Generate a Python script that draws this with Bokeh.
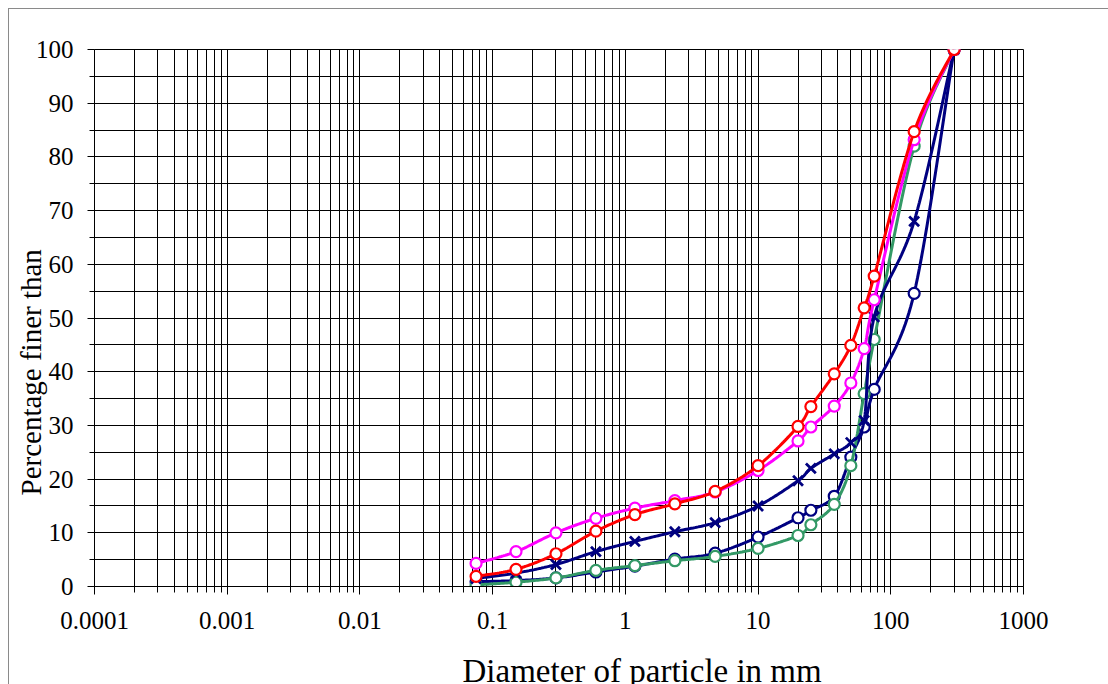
import math
from bokeh.plotting import figure
from bokeh.models import FixedTicker, Title, ColumnDataSource
from bokeh.embed import file_html
from bokeh.resources import INLINE

# ---------------- data ----------------
sizes = [0.075, 0.15, 0.3, 0.6, 1.18, 2.36, 4.75, 10, 20, 25, 37.5, 50, 63, 75, 150, 300]

red_series = [1.9, 3.2, 6.1, 10.3, 13.4, 15.4, 17.7, 22.5, 29.8, 33.5, 39.6, 44.9, 51.9, 57.8, 84.7, 100]
magenta_series = [4.3, 6.5, 10.0, 12.7, 14.6, 16.0, 17.6, 21.6, 27.1, 29.7, 33.6, 37.9, 44.3, 53.4, 83.2, 100]
navy_x_series = [1.5, 2.5, 4.1, 6.5, 8.4, 10.2, 11.9, 15.0, 19.7, 22.0, 24.7, 26.8, 30.9, 50.2, 68.0, 100]
navy_o_series = [0.9, 1.1, 1.6, 2.7, 3.8, 5.1, 6.2, 9.2, 12.8, 14.2, 16.8, 24.1, 29.7, 36.7, 54.6, 100]
green_series = [0.3, 0.8, 1.6, 3.0, 3.9, 4.8, 5.6, 7.1, 9.5, 11.5, 15.3, 22.5, 35.9, 46.0, 82.0, 100]

x_ticks = [0.0001, 0.001, 0.01, 0.1, 1, 10, 100, 1000]
x_tick_labels = ["0.0001", "0.001", "0.01", "0.1", "1", "10", "100", "1000"]
y_ticks = [0, 10, 20, 30, 40, 50, 60, 70, 80, 90, 100]
y_minor = [5, 15, 25, 35, 45, 55, 65, 75, 85, 95]

x_title = "Diameter of particle in mm"
y_title = "Percentage finer than"

FONT = "Liberation Serif"


def smooth(xs, ys, n=24):
    """Excel-like smoothed line (Catmull-Rom Bezier) in (log10 x, y) space."""
    us = [math.log10(v) for v in xs]
    pts = list(zip(us, ys))
    out_u, out_y = [], []
    m = len(pts)
    for i in range(m - 1):
        p0 = pts[i - 1] if i > 0 else pts[i]
        p1 = pts[i]
        p2 = pts[i + 1]
        p3 = pts[i + 2] if i + 2 < m else pts[i + 1]
        c1 = (p1[0] + (p2[0] - p0[0]) / 6.0, p1[1] + (p2[1] - p0[1]) / 6.0)
        c2 = (p2[0] - (p3[0] - p1[0]) / 6.0, p2[1] - (p3[1] - p1[1]) / 6.0)
        for k in range(n + (1 if i == m - 2 else 0)):
            t = k / n
            a = (1 - t) ** 3
            b = 3 * (1 - t) ** 2 * t
            c = 3 * (1 - t) * t ** 2
            d = t ** 3
            out_u.append(a * p1[0] + b * c1[0] + c * c2[0] + d * p2[0])
            out_y.append(a * p1[1] + b * c1[1] + c * c2[1] + d * p2[1])
    return [10 ** u for u in out_u], out_y


p = figure(width=1108, height=684, x_axis_type="log",
           x_range=(0.0001, 1000), y_range=(0, 100),
           output_backend="svg", toolbar_location=None,
           min_border_left=94, min_border_right=85,
           min_border_top=49, min_border_bottom=98)
p.border_fill_color = None
p.background_fill_color = "white"
p.outline_line_color = "black"
p.outline_line_width = 1
p.styles = {"box-shadow": "inset 8px 8px 0 0 white, inset 9px 9px 0 0 #8a8a8a"}

# axes / ticks
minor_x = [k * 10 ** e for e in range(-4, 3) for k in range(2, 10)]
p.xaxis.ticker = FixedTicker(ticks=x_ticks, minor_ticks=minor_x)
p.xgrid.ticker = p.xaxis.ticker
p.xaxis.major_label_overrides = {t: l for t, l in zip(x_ticks, x_tick_labels)}
p.yaxis.ticker = FixedTicker(ticks=y_ticks, minor_ticks=y_minor)
p.ygrid.ticker = p.yaxis.ticker

for ax in (p.xaxis, p.yaxis):
    ax.axis_line_color = "black"
    ax.axis_line_width = 1
    ax.major_tick_line_color = "black"
    ax.minor_tick_line_color = "black"
    ax.major_tick_in = 0
    ax.minor_tick_in = 0
    ax.major_label_text_font = FONT
    ax.major_label_text_font_size = "25px"
    ax.major_label_text_color = "black"
p.xaxis.major_tick_out = 8
p.xaxis.minor_tick_out = 6
p.xaxis.major_label_standoff = 17
p.yaxis.major_tick_out = 7
p.yaxis.minor_tick_out = 5
p.yaxis.major_label_standoff = 14

for g in (p.xgrid, p.ygrid):
    g.grid_line_color = "black"
    g.grid_line_width = 1
    g.minor_grid_line_color = "black"
    g.minor_grid_line_width = 1

# series (bottom to top)
series = [
    (navy_o_series, "#000080", "circle"),
    (green_series, "#339966", "circle"),
    (navy_x_series, "#000080", "x"),
    (magenta_series, "#FF00FF", "circle"),
    (red_series, "#FF0000", "circle"),
]
for ys, col, mk in series:
    sx, sy = smooth(sizes, ys)
    p.line(sx, sy, line_color=col, line_width=3)
    src = ColumnDataSource(dict(x=sizes, y=ys))
    if mk == "circle":
        p.scatter("x", "y", source=src, marker="circle", size=11,
                  fill_color="white", line_color=col, line_width=2.2)
    else:
        p.scatter("x", "y", source=src, marker="x", size=14,
                  line_color=col, line_width=2.8)

# axis titles (a blank white spacer title pushes the x title down)
p.add_layout(Title(text="\u00a0", standoff=10, text_font=FONT,
                   text_font_size="10px", text_color="white"), "below")
p.add_layout(Title(text=x_title, align="left", offset=368, standoff=-8,
                   vertical_align="bottom",
                   text_font=FONT, text_font_size="33px",
                   text_font_style="normal", text_color="black"), "below")
p.add_layout(Title(text=y_title, align="left", offset=91, standoff=-28,
                   text_font=FONT, text_font_size="29px",
                   text_font_style="normal", text_color="black"), "left")

open("out.html", "w").write(file_html(p, INLINE))
